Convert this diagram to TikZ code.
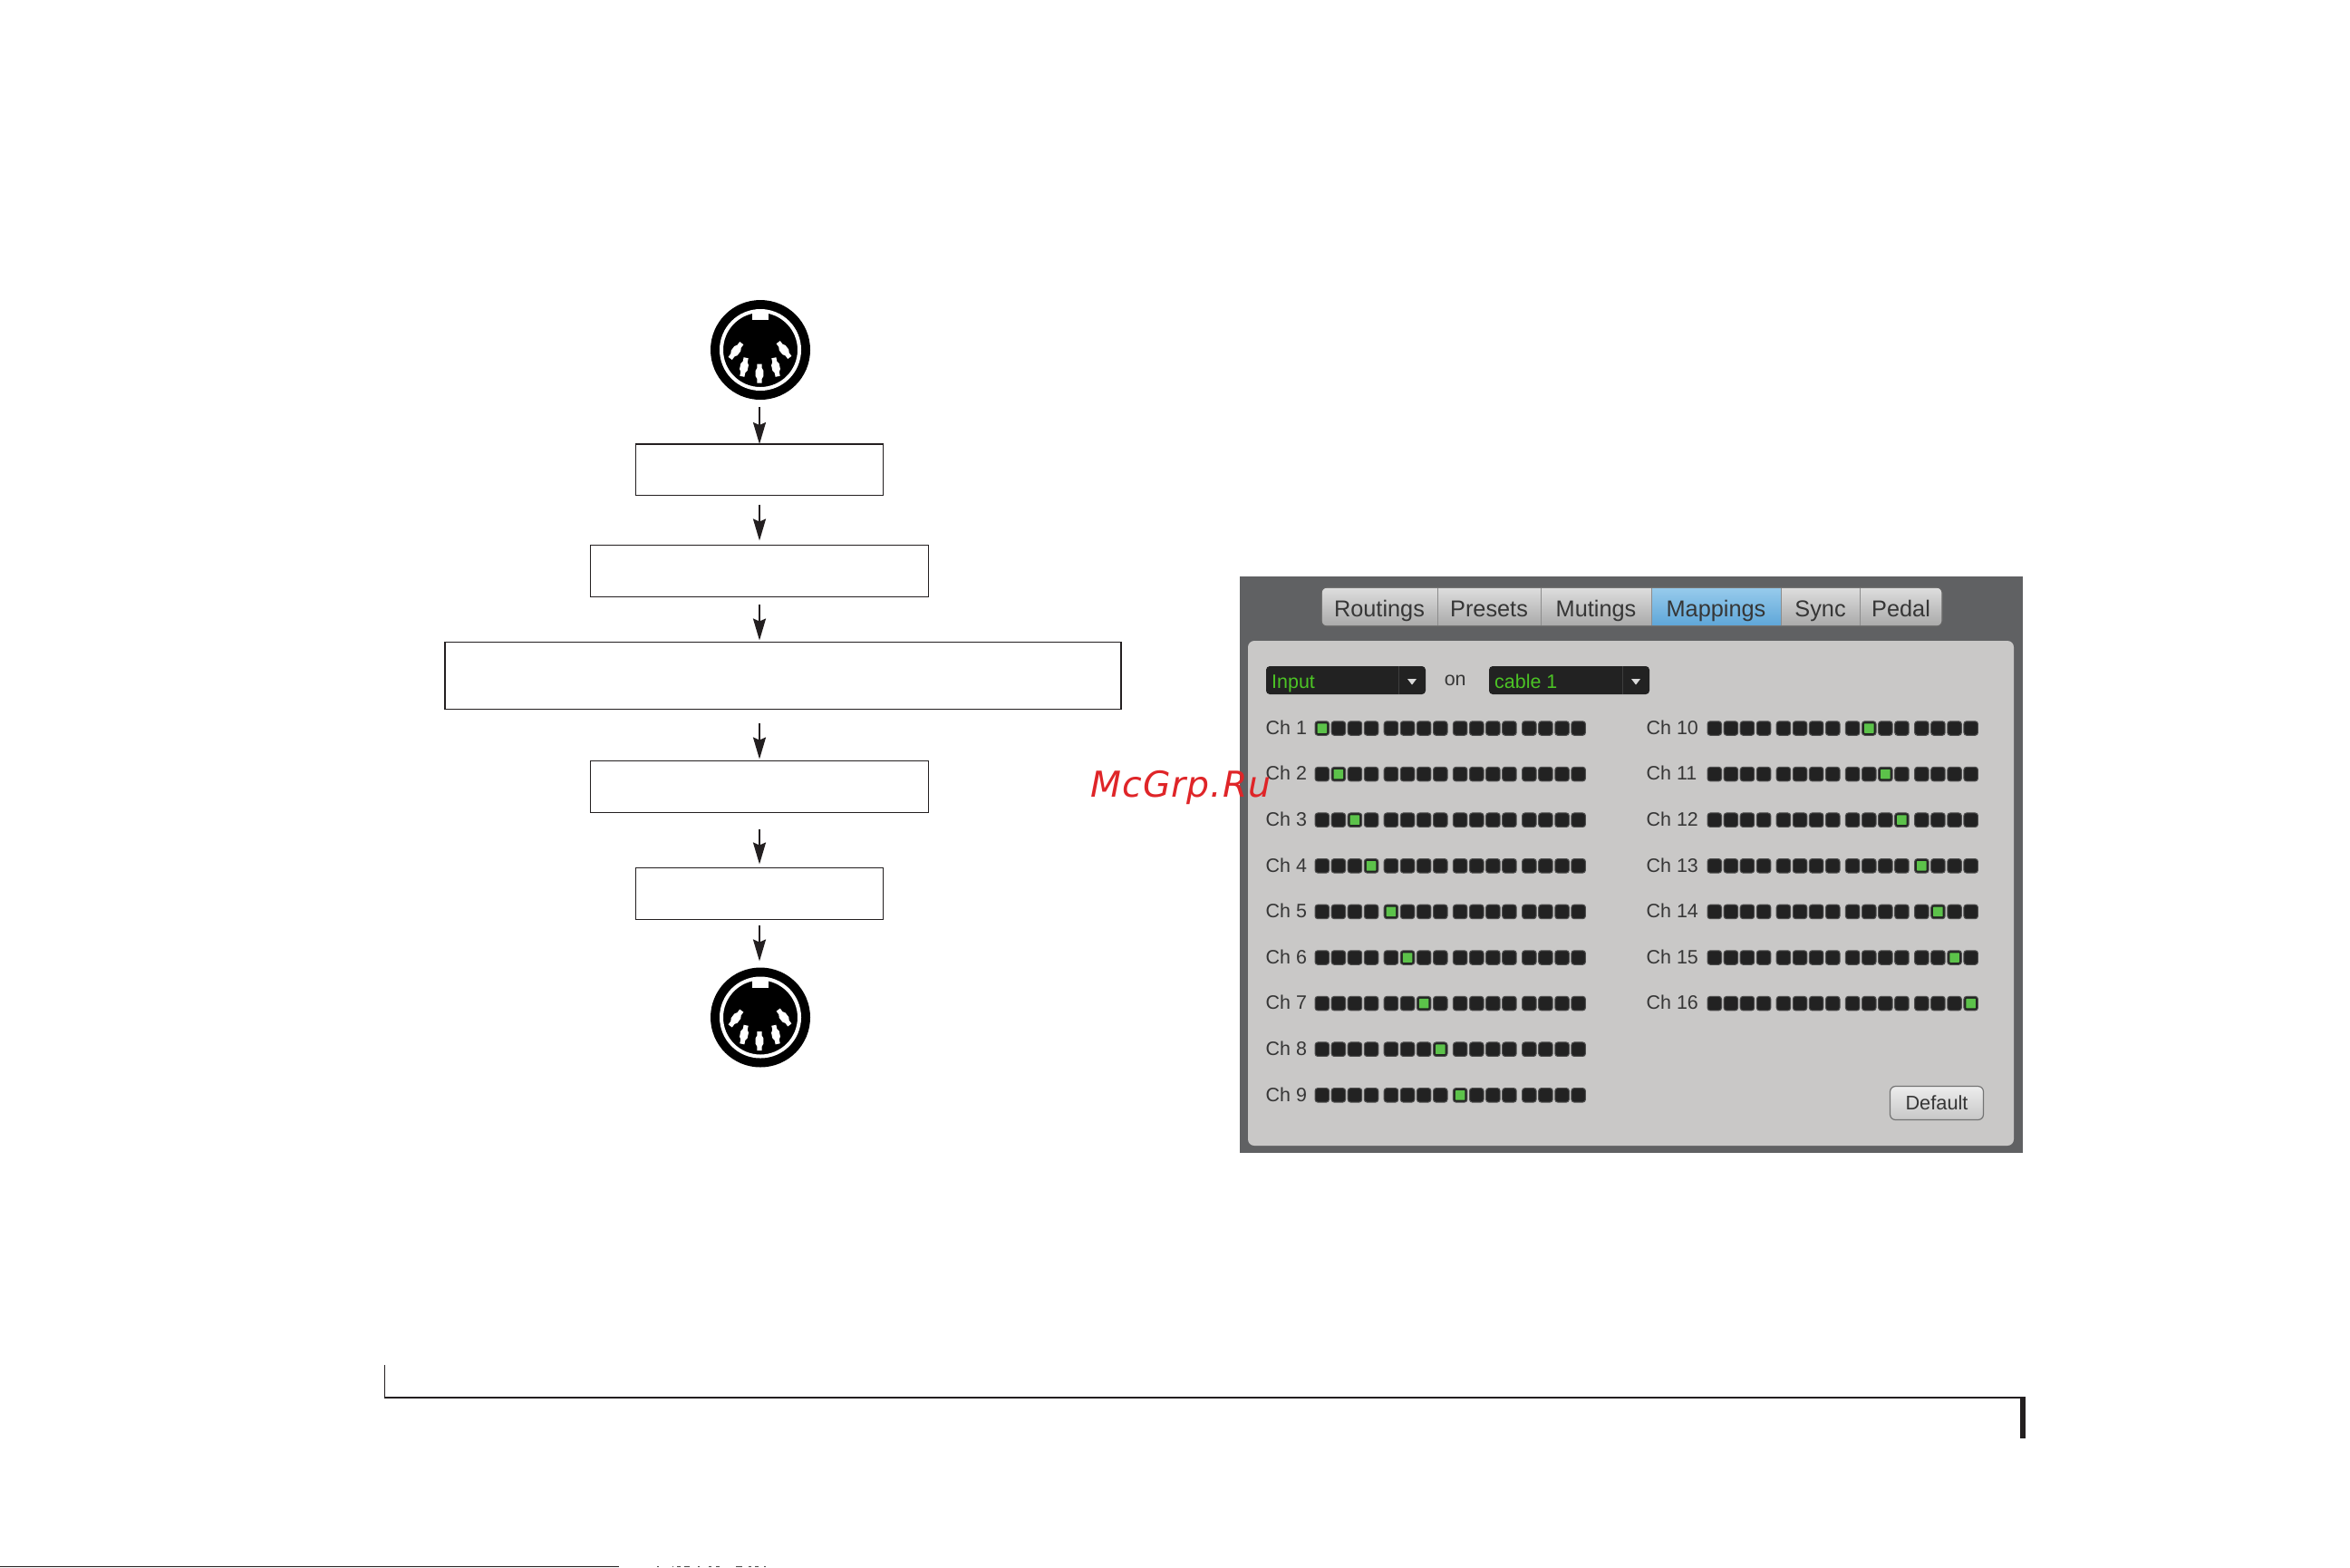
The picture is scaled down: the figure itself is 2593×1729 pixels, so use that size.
\documentclass[tikz,border=0pt]{standalone}
\usepackage{fontspec}
\setmainfont{Liberation Sans}
\newfontfamily\markfont[LetterSpace=2.5]{DejaVu Sans}
\usetikzlibrary{arrows.meta,positioning}
\definecolor{inkblack}{HTML}{231F20}
\definecolor{paneldark}{HTML}{606163}
\definecolor{panellight}{HTML}{C9C8C7}
\definecolor{ledblack}{HTML}{222222}
\definecolor{ledgreen}{HTML}{5CC24A}
\definecolor{inputgreen}{HTML}{4CC425}
\definecolor{labelgrey}{HTML}{363636}
\definecolor{tabtop}{HTML}{DEDEDE}
\definecolor{tabbot}{HTML}{A9A9A9}
\definecolor{bluetop}{HTML}{97CBEC}
\definecolor{bluebot}{HTML}{5EA6D8}
\definecolor{markred}{HTML}{DF2528}
\tikzset{
  dinpins/.pic={
    \draw[white, line width=0.4mm] (0,0) circle [radius=4.3mm];
    \fill[white] (-9,-44) rectangle (9,-33);
    \foreach \px/\py/\rot in {-27/1/-37,-18/19/-12,-1/26/0,17/19/12,26/0/37}
      \fill[white, shift={(\px,\py)}, rotate=\rot]
        (-2.6,-10.5) -- (2.6,-10.5) -- (2.6,-6) -- (4.4,-3) -- (4.4,3) -- (2.6,6) -- (2.6,10.5) -- (-2.6,10.5)
        -- (-2.6,6) -- (-4.4,3) -- (-4.4,-3) -- (-2.6,-6) -- cycle;
  }
}
\begin{document}
\begin{tikzpicture}[x=0.1mm, y=-0.1mm, node distance = 5mm,
  dinbody/.style = {circle, fill=black, minimum size=11mm, inner sep=0, outer sep=0},
  flowbox/.style args = {#1,#2}{draw=inkblack, line width=0.18mm, inner sep=0, outer sep=0, minimum width=#1, minimum height=#2},
  flow/.style = {draw=inkblack, line width=0.2mm, -{Stealth[length=2.4mm,width=1.4mm,inset=0.3mm]}},
  tabbox/.style = {draw=black!45, line width=0.1mm, anchor=west, inner sep=0, outer sep=0, minimum height=4.27mm,
    text height=2.6mm, text depth=0.5mm, text=labelgrey, font=\fontsize{7.2}{8}\selectfont},
  label/.style = {anchor=west, inner sep=0, text=labelgrey, font=\fontsize{6.1}{7}\selectfont},
  led/.style = {anchor=west, draw=ledblack!80, fill=ledblack, line width=0.1mm, rounded corners=0.3mm, minimum size=1.55mm, inner sep=0, outer sep=0},
  ledon/.style = {fill=ledgreen, rounded corners=0.05mm, minimum size=1.05mm, inner sep=0, outer sep=0}]
\useasboundingbox (0,0) rectangle (2593,1729);

\node (din1) [dinbody] at (839,386) {};
\pic at (din1) {dinpins};
\node (box1) [flowbox={27.3mm,5.65mm}, below=4.9mm of din1, xshift=-0.1mm]{};
\node (box2) [flowbox={37.3mm,5.7mm}, below=5.5mm of box1]{};
\node (box3) [flowbox={74.6mm,7.4mm}, below=of box2, xshift=2.6mm]{};
\node (box4) [flowbox={37.3mm,5.7mm}, below=5.7mm of box3, xshift=-2.6mm]{};
\node (box5) [flowbox={27.3mm,5.7mm}, below=6.1mm of box4]{};
\node (din2) [dinbody, below=5.3mm of box5, xshift=0.1mm]{};
\pic at (din2) {dinpins};
\foreach \from/\to/\sa/\sb in {din1/box1/0.8/0, box1/box2/1/0.5, box2/box3/0.8/0.2, box3/box4/1.5/0.2, box4/box5/1.8/0.4, box5/din2/0.6/0.7}
  \draw[flow, shorten <=\sa mm, shorten >=\sb mm] (box1.north |- \from.south) -- (box1.north |- \to.north);

\fill[paneldark] (1368,636) rectangle (2232,1272);
\fill[panellight, rounded corners=0.7mm] (1377,707) rectangle (2222,1264);
\begin{scope}
\clip[rounded corners=0.6mm] (1458,648) rectangle (2143,691);
\foreach \tname/\l/\r/\ctop/\cbot in {Routings/1458/1586/tabtop/tabbot, Presets/1586/1700/tabtop/tabbot, Mutings/1700/1822/tabtop/tabbot, Mappings/1822/1965/bluetop/bluebot, Sync/1965/2052/tabtop/tabbot, Pedal/2052/2143/tabtop/tabbot}
  \node (tab\tname) [tabbox, top color=\ctop, bottom color=\cbot, minimum width={(\r-\l)*0.1mm}] at (\l,669.5) {\tname};
\end{scope}
\draw[black!60, line width=0.12mm, rounded corners=0.6mm] (1458,648) rectangle (2143,691);

\foreach \dname/\l/\r/\d/\txt in {input/1397/1573/1543/Input, cable/1643/1820/1790/cable 1}{
  \fill[ledblack, rounded corners=0.4mm] (\l,735) rectangle (\r,766);
  \draw[black!60!ledblack!80!white, line width=0.1mm] (\d,735) -- (\d,766);
  \fill[white!85!black] ({(\d+\r)/2-5},749) -- ({(\d+\r)/2+5},749) -- ({(\d+\r)/2},755.5) -- cycle;
  \node (\dname) [label, anchor=base west, text=inputgreen] at (\l+5.5,759) {\txt};
}
\node (onlabel) [label, anchor=center] at (1605.7,751) {on};

\foreach \c/\r/\lx/\sx in {1/0/1396/1451, 2/1/1396/1451, 3/2/1396/1451, 4/3/1396/1451, 5/4/1396/1451, 6/5/1396/1451, 7/6/1396/1451, 8/7/1396/1451, 9/8/1396/1451,
  10/0/1816/1884, 11/1/1816/1884, 12/2/1816/1884, 13/3/1816/1884, 14/4/1816/1884, 15/5/1816/1884, 16/6/1816/1884}{
  \node (ch\c) [label] at (\lx,{802.7+\r*50.6}) {Ch \c};
  \foreach \k in {0,...,15}{
    \pgfmathtruncatemacro{\grp}{\k/4}
    \node (led\c-\k) [led] at ({\sx+\k*18.1+\grp*3.8},{803.5+\r*50.6}) {};
    \ifnum\numexpr\c-1\relax=\k
      \node (on\c) [ledon] at (led\c-\k) {};
    \fi
  }
}
\node (default) [draw=black!55, line width=0.12mm, rounded corners=0.6mm, top color=white!93!black, bottom color=white!78!black,
  minimum width=10.3mm, minimum height=3.7mm, inner sep=0, text=labelgrey, font=\fontsize{6.2}{7}\selectfont] at (2137,1217) {Default};

\draw[inkblack, line width=0.1mm] (424.3,1506) -- (424.3,1542);
\draw[inkblack, line width=0.2mm] (424,1541.7) -- (2235,1541.7);
\fill[inkblack] (2229,1541) rectangle (2235,1587);
\fill[inkblack] (0,1728) rectangle (683,1729);
\foreach \sx/\sw in {725/2,742/1,747/4,755/6,770/2,782/3,790/4,812/7,826/3,833/4,843/2}
  \fill[black!70] (\sx,1728) rectangle (\sx+\sw,1729);

\node (watermark) [anchor=base west, inner sep=0, text=markred, font=\markfont\itshape\fontsize{11.2}{13}\selectfont] at (1203,879) {McGrp.Ru};
\end{tikzpicture}
\end{document}
